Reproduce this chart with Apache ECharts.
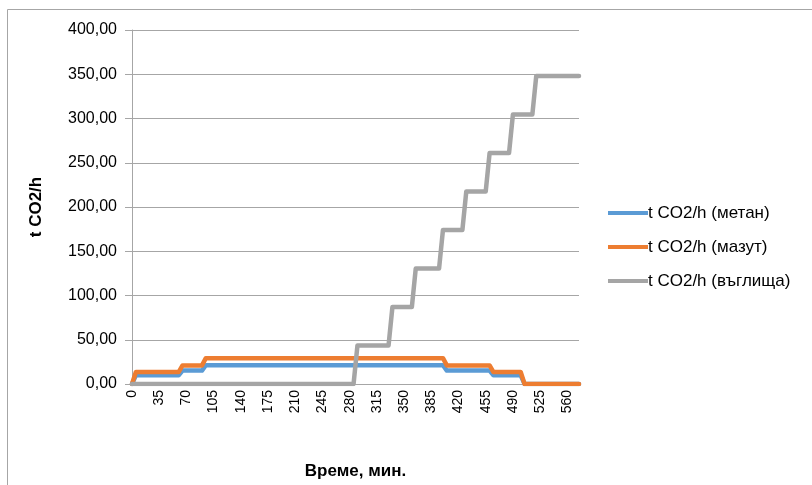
<!DOCTYPE html>
<html>
<head>
<meta charset="utf-8">
<script src="https://cdn.jsdelivr.net/npm/echarts@6/dist/echarts.min.js"></script>
<style>
html,body{margin:0;padding:0;background:#fff;}
#chart{width:812px;height:485px;}
</style>
</head>
<body>
<div id="chart"></div>
<script>
var categories = ['0','5','10','15','20','25','30','35','40','45',
'50','55','60','65','70','75','80','85','90','95',
'100','105','110','115','120','125','130','135','140','145',
'150','155','160','165','170','175','180','185','190','195',
'200','205','210','215','220','225','230','235','240','245',
'250','255','260','265','270','275','280','285','290','295',
'300','305','310','315','320','325','330','335','340','345',
'350','355','360','365','370','375','380','385','390','395',
'400','405','410','415','420','425','430','435','440','445',
'450','455','460','465','470','475','480','485','490','495',
'500','505','510','515','520','525','530','535','540','545',
'550','555','560','565','570','575'];

var metan = [0,9.8,9.8,9.8,9.8,9.8,9.8,9.8,9.8,9.8,
9.8,9.8,9.8,15.2,15.2,15.2,15.2,15.2,15.2,21.2,
21.2,21.2,21.2,21.2,21.2,21.2,21.2,21.2,21.2,21.2,
21.2,21.2,21.2,21.2,21.2,21.2,21.2,21.2,21.2,21.2,
21.2,21.2,21.2,21.2,21.2,21.2,21.2,21.2,21.2,21.2,
21.2,21.2,21.2,21.2,21.2,21.2,21.2,21.2,21.2,21.2,
21.2,21.2,21.2,21.2,21.2,21.2,21.2,21.2,21.2,21.2,
21.2,21.2,21.2,21.2,21.2,21.2,21.2,21.2,21.2,21.2,
21.2,15.2,15.2,15.2,15.2,15.2,15.2,15.2,15.2,15.2,
15.2,15.2,15.2,9.8,9.8,9.8,9.8,9.8,9.8,9.8,
9.8,0,0,0,0,0,0,0,0,0,
0,0,0,0,0,0];

var mazut = [0,13.5,13.5,13.5,13.5,13.5,13.5,13.5,13.5,13.5,
13.5,13.5,13.5,21,21,21,21,21,21,29.2,
29.2,29.2,29.2,29.2,29.2,29.2,29.2,29.2,29.2,29.2,
29.2,29.2,29.2,29.2,29.2,29.2,29.2,29.2,29.2,29.2,
29.2,29.2,29.2,29.2,29.2,29.2,29.2,29.2,29.2,29.2,
29.2,29.2,29.2,29.2,29.2,29.2,29.2,29.2,29.2,29.2,
29.2,29.2,29.2,29.2,29.2,29.2,29.2,29.2,29.2,29.2,
29.2,29.2,29.2,29.2,29.2,29.2,29.2,29.2,29.2,29.2,
29.2,21,21,21,21,21,21,21,21,21,
21,21,21,13.5,13.5,13.5,13.5,13.5,13.5,13.5,
13.5,0,0,0,0,0,0,0,0,0,
0,0,0,0,0,0];

var vaglishta = [0,0,0,0,0,0,0,0,0,0,
0,0,0,0,0,0,0,0,0,0,
0,0,0,0,0,0,0,0,0,0,
0,0,0,0,0,0,0,0,0,0,
0,0,0,0,0,0,0,0,0,0,
0,0,0,0,0,0,0,0,43.5,43.5,
43.5,43.5,43.5,43.5,43.5,43.5,43.5,87,87,87,
87,87,87,130.5,130.5,130.5,130.5,130.5,130.5,130.5,
174,174,174,174,174,174,217.5,217.5,217.5,217.5,
217.5,217.5,261,261,261,261,261,261,304.5,304.5,
304.5,304.5,304.5,304.5,348,348,348,348,348,348,
348,348,348,348,348,348];

var seriesNames = ['t CO2/h (метан)','t CO2/h (мазут)','t CO2/h (въглища)'];
var colors = ['#5B9BD5','#ED7D31','#A5A5A5'];
var yTicks = {min:0, max:400, interval:50};

var font = 'Liberation Sans';
var chart = echarts.init(document.getElementById('chart'), null, {renderer:'canvas'});
function mk(name, data, color){
  return {name:name, type:'line', data:data, symbol:'none', smooth:false,
    lineStyle:{color:color, width:4.5, cap:'round', join:'round'}, itemStyle:{color:color}, animation:false};
}
chart.setOption({
  animation:false,
  backgroundColor:'#fff',
  graphic:[{type:'rect', left:5, top:7, shape:{width:820, height:490}, style:{fill:'none', stroke:'#a6a6a6', lineWidth:1}, silent:true}],
  grid:{left:132, right:233, top:30, bottom:94, containLabel:false},
  legend:{orient:'vertical', left:603, top:199, itemWidth:40, itemHeight:4, itemGap:16, icon:'rect',
    textStyle:{fontFamily:font, fontSize:17, color:'#000', lineHeight:18, padding:[0,0,0,-5]},
    data:seriesNames},
  xAxis:{type:'category', data:categories, boundaryGap:false,
    name:'Време, мин.', nameLocation:'middle', nameGap:79,
    nameTextStyle:{fontFamily:font, fontSize:17, fontWeight:'bold', color:'#000'},
    axisLine:{lineStyle:{color:'#a6a6a6', width:1}},
    axisTick:{show:false},
    axisLabel:{interval:6, rotate:90, fontFamily:font, fontSize:14, color:'#000', margin:6}},
  yAxis:{type:'value', min:yTicks.min, max:yTicks.max, interval:yTicks.interval,
    name:'t CO2/h', nameLocation:'middle', nameGap:87, nameRotate:90,
    nameTextStyle:{fontFamily:font, fontSize:17, fontWeight:'bold', color:'#000'},
    axisLine:{show:true, lineStyle:{color:'#a6a6a6', width:1}},
    axisTick:{show:true, length:7, lineStyle:{color:'#a6a6a6'}},
    splitLine:{lineStyle:{color:'#a6a6a6', width:1}},
    axisLabel:{fontFamily:font, fontSize:16, color:'#000', margin:15,
      formatter:function(v){return v.toFixed(2).replace('.', ',');}}},
  series:[mk(seriesNames[0], metan, colors[0]), mk(seriesNames[1], mazut, colors[1]), mk(seriesNames[2], vaglishta, colors[2])]
});
</script>
</body>
</html>
